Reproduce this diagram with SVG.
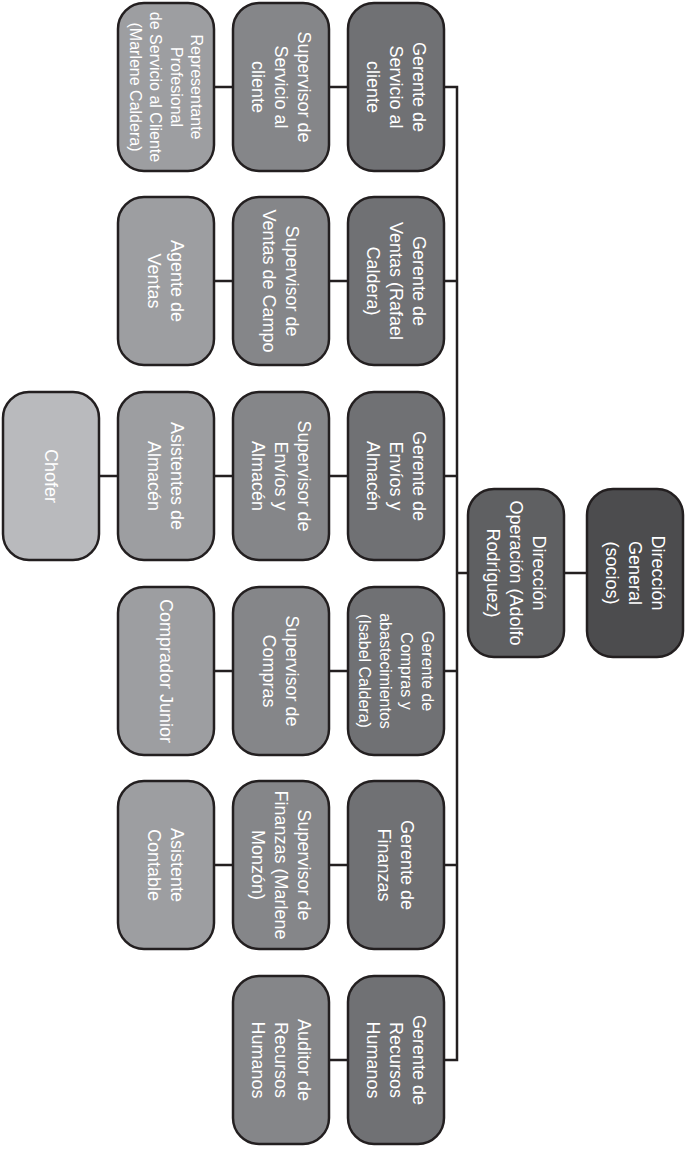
<svg xmlns="http://www.w3.org/2000/svg" width="687" height="1149" viewBox="0 0 687 1149">
<style>
rect.n{stroke:#231f20;stroke-width:2.5}
.gen{fill:#4c4c4e}.op{fill:#5f6062}.ger{fill:#707174}.sup{fill:#858689}.lv3{fill:#9d9ea1}.lv4{fill:#b9babd}
text{font-family:"Liberation Sans",Arial,sans-serif;font-size:18px;fill:#ffffff;text-anchor:middle}
text.s{font-size:16px}
.c{fill:none;stroke:#231f20;stroke-width:2.5}
</style>
<g id="connectors">
<path class="c" d="M444 87H457V1060H444M444 281H457M444 476H457M444 671H457M444 865H457M457 573H468M564 573H587"/>
<path class="c" d="M214 87H233M329 87H348M214 281H233M329 281H348M99 476H118M214 476H233M329 476H348M214 671H233M329 671H348M214 865H233M329 865H348M329 1060H348"/>
</g>
<g id="n-direccion-general"><rect class="n gen" x="587" y="489" width="96" height="168" rx="26"/><text transform="translate(635,573) rotate(90)"><tspan x="0" y="-16.7">Dirección</tspan><tspan x="0" y="6.3">General</tspan><tspan x="0" y="29.3">(socios)</tspan></text></g>
<g id="n-direccion-operacion"><rect class="n op" x="468" y="489" width="96" height="168" rx="26"/><text transform="translate(516,573) rotate(90)"><tspan x="0" y="-16.7">Dirección</tspan><tspan x="0" y="6.3">Operación (Adolfo</tspan><tspan x="0" y="29.3">Rodríguez)</tspan></text></g>

<g id="n-gerente-servicio"><rect class="n ger" x="348" y="3" width="96" height="168" rx="26"/><text transform="translate(396,87) rotate(90)"><tspan x="0" y="-16.7">Gerente de</tspan><tspan x="0" y="6.3">Servicio al</tspan><tspan x="0" y="29.3">cliente</tspan></text></g>
<g id="n-supervisor-servicio"><rect class="n sup" x="233" y="3" width="96" height="168" rx="26"/><text transform="translate(281,87) rotate(90)"><tspan x="0" y="-16.7">Supervisor de</tspan><tspan x="0" y="6.3">Servicio al</tspan><tspan x="0" y="29.3">cliente</tspan></text></g>
<g id="n-representante"><rect class="n lv3" x="118" y="3" width="96" height="168" rx="26"/><text class="s" transform="translate(166,87) rotate(90)"><tspan x="0" y="-25.2">Representante</tspan><tspan x="0" y="-4.7">Profesional</tspan><tspan x="0" y="15.8">de Servicio al Cliente</tspan><tspan x="0" y="36.3">(Marlene Caldera)</tspan></text></g>

<g id="n-gerente-ventas"><rect class="n ger" x="348" y="197" width="96" height="168" rx="26"/><text transform="translate(396,281) rotate(90)"><tspan x="0" y="-16.7">Gerente de</tspan><tspan x="0" y="6.3">Ventas (Rafael</tspan><tspan x="0" y="29.3">Caldera)</tspan></text></g>
<g id="n-supervisor-ventas"><rect class="n sup" x="233" y="197" width="96" height="168" rx="26"/><text transform="translate(281,281) rotate(90)"><tspan x="0" y="-5.2">Supervisor de</tspan><tspan x="0" y="17.8">Ventas de Campo</tspan></text></g>
<g id="n-agente-ventas"><rect class="n lv3" x="118" y="197" width="96" height="168" rx="26"/><text transform="translate(166,281) rotate(90)"><tspan x="0" y="-5.2">Agente de</tspan><tspan x="0" y="17.8">Ventas</tspan></text></g>

<g id="n-gerente-envios"><rect class="n ger" x="348" y="392" width="96" height="168" rx="26"/><text transform="translate(396,476) rotate(90)"><tspan x="0" y="-16.7">Gerente de</tspan><tspan x="0" y="6.3">Envíos y</tspan><tspan x="0" y="29.3">Almacén</tspan></text></g>
<g id="n-supervisor-envios"><rect class="n sup" x="233" y="392" width="96" height="168" rx="26"/><text transform="translate(281,476) rotate(90)"><tspan x="0" y="-16.7">Supervisor de</tspan><tspan x="0" y="6.3">Envíos y</tspan><tspan x="0" y="29.3">Almacén</tspan></text></g>
<g id="n-asistentes-almacen"><rect class="n lv3" x="118" y="392" width="96" height="168" rx="26"/><text transform="translate(166,476) rotate(90)"><tspan x="0" y="-5.2">Asistentes de</tspan><tspan x="0" y="17.8">Almacén</tspan></text></g>
<g id="n-chofer"><rect class="n lv4" x="3" y="392" width="96" height="168" rx="26"/><text transform="translate(51,476) rotate(90)"><tspan x="0" y="6.3">Chofer</tspan></text></g>

<g id="n-gerente-compras"><rect class="n ger" x="348" y="587" width="96" height="168" rx="26"/><text class="s" transform="translate(396,671) rotate(90)"><tspan x="0" y="-25.7">Gerente de</tspan><tspan x="0" y="-4.7">Compras y</tspan><tspan x="0" y="16.3">abastecimientos</tspan><tspan x="0" y="37.3">(Isabel Caldera)</tspan></text></g>
<g id="n-supervisor-compras"><rect class="n sup" x="233" y="587" width="96" height="168" rx="26"/><text transform="translate(281,671) rotate(90)"><tspan x="0" y="-5.2">Supervisor de</tspan><tspan x="0" y="17.8">Compras</tspan></text></g>
<g id="n-comprador-junior"><rect class="n lv3" x="118" y="587" width="96" height="168" rx="26"/><text transform="translate(166,671) rotate(90)"><tspan x="0" y="6.3">Comprador Junior</tspan></text></g>

<g id="n-gerente-finanzas"><rect class="n ger" x="348" y="781" width="96" height="168" rx="26"/><text transform="translate(396,865) rotate(90)"><tspan x="0" y="-5.2">Gerente de</tspan><tspan x="0" y="17.8">Finanzas</tspan></text></g>
<g id="n-supervisor-finanzas"><rect class="n sup" x="233" y="781" width="96" height="168" rx="26"/><text transform="translate(281,865) rotate(90)"><tspan x="0" y="-16.7">Supervisor de</tspan><tspan x="0" y="6.3">Finanzas (Marlene</tspan><tspan x="0" y="29.3">Monzón)</tspan></text></g>
<g id="n-asistente-contable"><rect class="n lv3" x="118" y="781" width="96" height="168" rx="26"/><text transform="translate(166,865) rotate(90)"><tspan x="0" y="-5.2">Asistente</tspan><tspan x="0" y="17.8">Contable</tspan></text></g>

<g id="n-gerente-rrhh"><rect class="n ger" x="348" y="976" width="96" height="168" rx="26"/><text transform="translate(396,1060) rotate(90)"><tspan x="0" y="-16.7">Gerente de</tspan><tspan x="0" y="6.3">Recursos</tspan><tspan x="0" y="29.3">Humanos</tspan></text></g>
<g id="n-auditor-rrhh"><rect class="n sup" x="233" y="976" width="96" height="168" rx="26"/><text transform="translate(281,1060) rotate(90)"><tspan x="0" y="-16.7">Auditor de</tspan><tspan x="0" y="6.3">Recursos</tspan><tspan x="0" y="29.3">Humanos</tspan></text></g>
</svg>
